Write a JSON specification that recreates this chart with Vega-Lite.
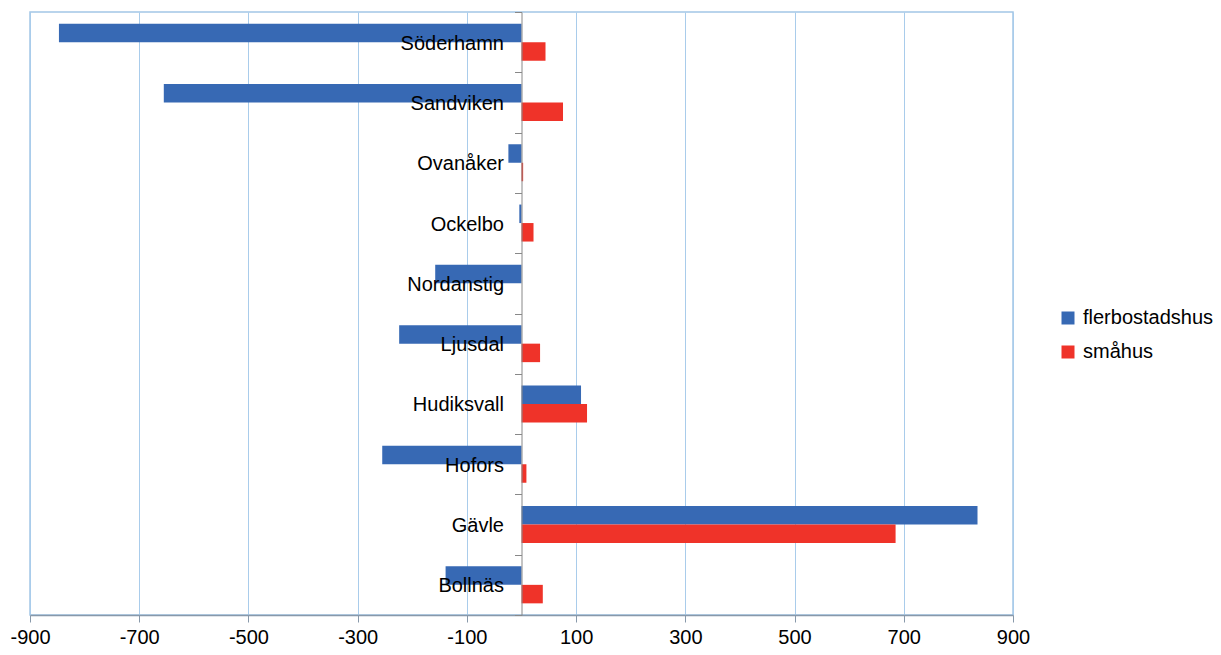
{
  "$schema": "https://vega.github.io/schema/vega-lite/v6.json",
  "width": 983,
  "height": 603,
  "autosize": "none",
  "padding": {"left": 30, "top": 12, "right": 208, "bottom": 40},
  "background": "white",
  "config": {
    "font": "Liberation Sans",
    "view": {"stroke": "#a3c6e6", "strokeWidth": 1.5}
  },
  "data": {
    "values": [
      {"kommun": "Söderhamn", "typ": "flerbostadshus", "v": -847},
      {"kommun": "Söderhamn", "typ": "småhus", "v": 44},
      {"kommun": "Sandviken", "typ": "flerbostadshus", "v": -655},
      {"kommun": "Sandviken", "typ": "småhus", "v": 76},
      {"kommun": "Ovanåker", "typ": "flerbostadshus", "v": -24},
      {"kommun": "Ovanåker", "typ": "småhus", "v": 3},
      {"kommun": "Ockelbo", "typ": "flerbostadshus", "v": -4},
      {"kommun": "Ockelbo", "typ": "småhus", "v": 22},
      {"kommun": "Nordanstig", "typ": "flerbostadshus", "v": -158},
      {"kommun": "Nordanstig", "typ": "småhus", "v": 0},
      {"kommun": "Ljusdal", "typ": "flerbostadshus", "v": -224},
      {"kommun": "Ljusdal", "typ": "småhus", "v": 34},
      {"kommun": "Hudiksvall", "typ": "flerbostadshus", "v": 109},
      {"kommun": "Hudiksvall", "typ": "småhus", "v": 120},
      {"kommun": "Hofors", "typ": "flerbostadshus", "v": -255},
      {"kommun": "Hofors", "typ": "småhus", "v": 9},
      {"kommun": "Gävle", "typ": "flerbostadshus", "v": 835},
      {"kommun": "Gävle", "typ": "småhus", "v": 685},
      {"kommun": "Bollnäs", "typ": "flerbostadshus", "v": -139},
      {"kommun": "Bollnäs", "typ": "småhus", "v": 39}
    ]
  },
  "mark": {"type": "bar"},
  "encoding": {
    "x": {
      "field": "v",
      "type": "quantitative",
      "scale": {"domain": [-900, 900], "nice": false, "zero": false},
      "axis": {
        "title": null,
        "values": [-900, -700, -500, -300, -100, 100, 300, 500, 700, 900],
        "labelExpr": "replace(datum.label, '−', '-')",
        "grid": true,
        "gridColor": "#a9cceb",
        "gridWidth": 1,
        "domainColor": "#8899aa",
        "domainWidth": 1.5,
        "tickColor": "#8899aa",
        "tickSize": 7,
        "labelFontSize": 20,
        "labelColor": "#000000",
        "labelPadding": 5,
        "labelFlush": false
      }
    },
    "y": {
      "field": "kommun",
      "type": "nominal",
      "sort": ["Söderhamn", "Sandviken", "Ovanåker", "Ockelbo", "Nordanstig", "Ljusdal", "Hudiksvall", "Hofors", "Gävle", "Bollnäs"],
      "scale": {"paddingInner": 0, "paddingOuter": 0},
      "axis": {
        "title": null,
        "offset": -491.5,
        "zindex": 1,
        "grid": false,
        "domainColor": "#888888",
        "domainWidth": 1,
        "tickColor": "#888888",
        "tickSize": 7,
        "tickBand": "extent",
        "labelFontSize": 20,
        "labelColor": "#000000",
        "labelPadding": 11,
        "labelOffset": 1
      }
    },
    "yOffset": {
      "field": "typ",
      "type": "nominal",
      "sort": ["flerbostadshus", "småhus"],
      "scale": {"paddingInner": 0, "paddingOuter": 0.63}
    },
    "color": {
      "field": "typ",
      "type": "nominal",
      "sort": ["flerbostadshus", "småhus"],
      "scale": {"domain": ["flerbostadshus", "småhus"], "range": ["#3769b4", "#ef3329"]},
      "legend": {
        "title": null,
        "orient": "none",
        "legendX": 1028,
        "legendY": 296,
        "symbolType": "square",
        "symbolSize": 169,
        "symbolStrokeWidth": 0,
        "labelFontSize": 20,
        "labelColor": "#000000",
        "labelOffset": 5,
        "rowPadding": 14
      }
    }
  }
}
